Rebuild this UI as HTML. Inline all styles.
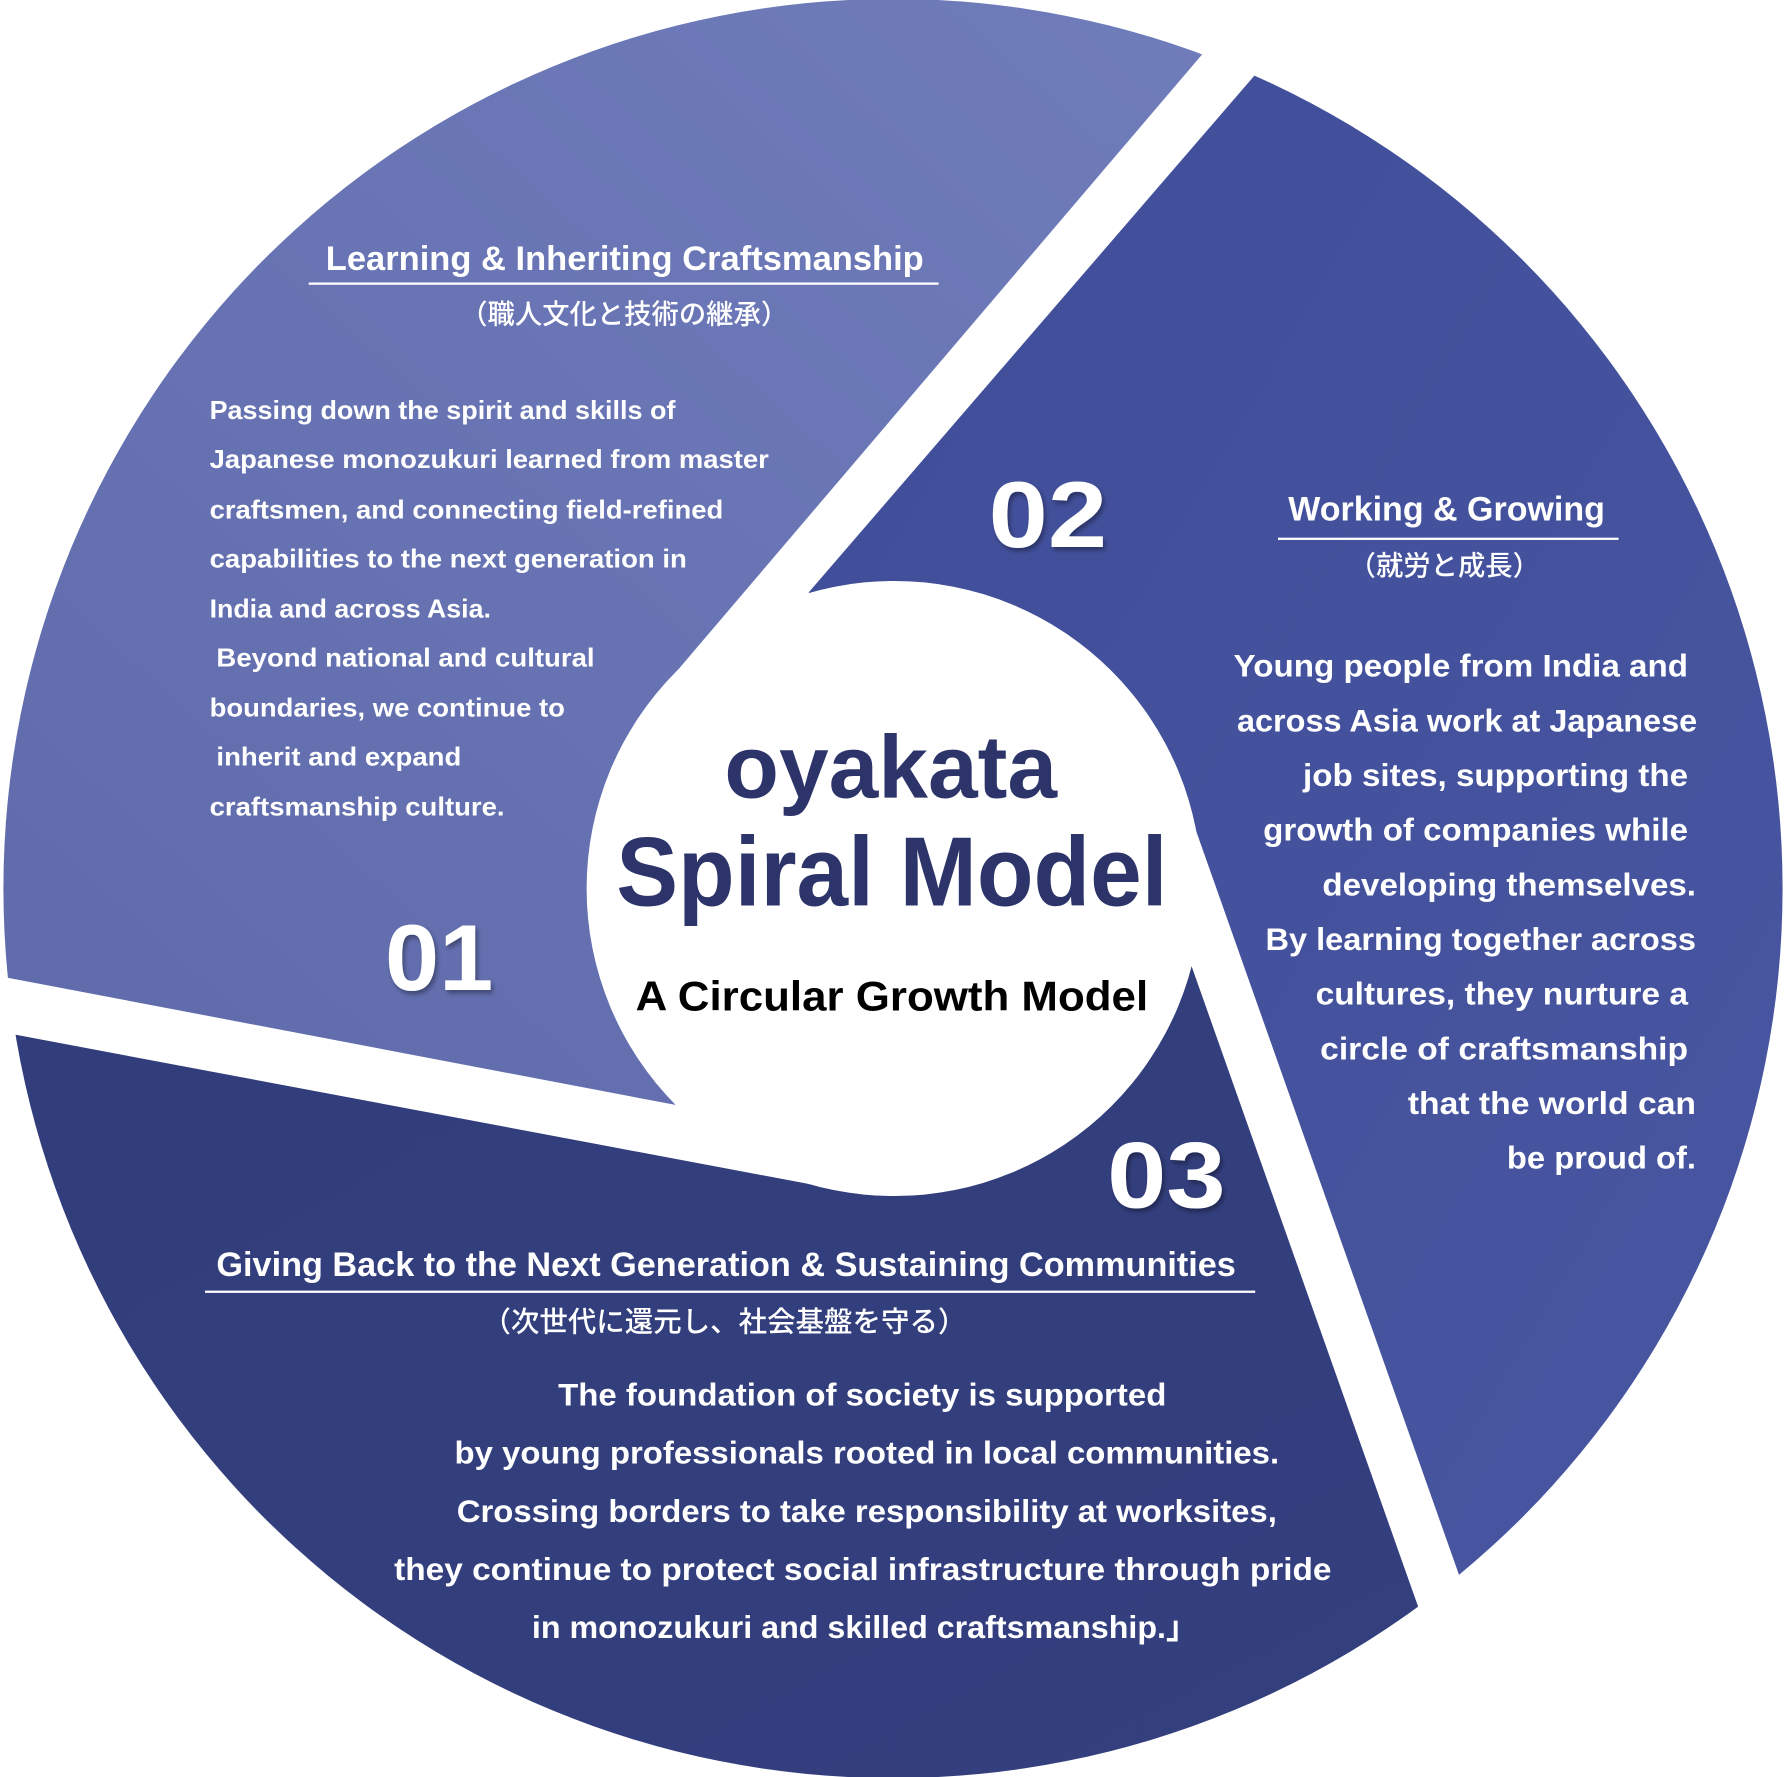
<!DOCTYPE html>
<html><head><meta charset="utf-8">
<style>
html,body{margin:0;padding:0;background:#fff;}
svg{display:block;}
text{font-family:"Liberation Sans","Noto Sans CJK JP",sans-serif;font-weight:bold;}
.w{fill:#fff;}
.jp{font-family:"Liberation Sans","Noto Sans CJK JP",sans-serif;font-weight:500;}
</style></head>
<body>
<svg width="1786" height="1777" viewBox="0 0 1568 1560" preserveAspectRatio="none" xmlns="http://www.w3.org/2000/svg">
<defs>
<clipPath id="c"><circle cx="784" cy="780" r="781"/></clipPath>
<linearGradient id="g1" x1="1" y1="0" x2="0" y2="1">
<stop offset="0" stop-color="#7380bd"/><stop offset="1" stop-color="#5e69aa"/></linearGradient>
<linearGradient id="g2" x1="0" y1="0" x2="1" y2="1">
<stop offset="0" stop-color="#3f4d99"/><stop offset="1" stop-color="#4a58a2"/></linearGradient>
<linearGradient id="g3" x1="0" y1="0" x2="1" y2="1">
<stop offset="0" stop-color="#323d7c"/><stop offset="1" stop-color="#343f7e"/></linearGradient>
<filter id="sh"><feDropShadow dx="2" dy="3" stdDeviation="2" flood-color="#000" flood-opacity="0.35"/></filter>
</defs>
<g clip-path="url(#c)">
<polygon fill="url(#g1)" points="-100,-200 1200,-122 585,600 560,800 593,970 -100,838"/>
<polygon fill="url(#g2)" points="1250,-106 710,520 800,700 1045,715 1350,1578 1700,1578 1700,-106"/>
<polygon fill="url(#g3)" points="-100,887 740,1045 800,800 1045,845 1305,1580 -100,1580"/>
</g>
<circle cx="785" cy="780" r="270" fill="#fff"/>

<!-- Segment 1 -->
<text class="w" x="286" y="237" font-size="30" textLength="525" lengthAdjust="spacingAndGlyphs">Learning &amp; Inheriting Craftsmanship</text>
<rect x="271" y="248" width="553" height="2" fill="#fff"/>
<text class="w jp" x="548" y="284" font-size="24" text-anchor="middle">（職人文化と技術の継承）</text>
<g font-size="23" class="w">
<text x="184" y="368" textLength="409" lengthAdjust="spacingAndGlyphs">Passing down the spirit and skills of</text>
<text x="184" y="411" textLength="491" lengthAdjust="spacingAndGlyphs">Japanese monozukuri learned from master</text>
<text x="184" y="455" textLength="451" lengthAdjust="spacingAndGlyphs">craftsmen, and connecting field-refined</text>
<text x="184" y="498" textLength="419" lengthAdjust="spacingAndGlyphs">capabilities to the next generation in</text>
<text x="184" y="542" textLength="247" lengthAdjust="spacingAndGlyphs">India and across Asia.</text>
<text x="190" y="585" textLength="332" lengthAdjust="spacingAndGlyphs">Beyond national and cultural</text>
<text x="184" y="629" textLength="312" lengthAdjust="spacingAndGlyphs">boundaries, we continue to</text>
<text x="190" y="672" textLength="215" lengthAdjust="spacingAndGlyphs">inherit and expand</text>
<text x="184" y="716" textLength="259" lengthAdjust="spacingAndGlyphs">craftsmanship culture.</text>
</g>
<text class="w" x="338" y="869" font-size="82" textLength="95" lengthAdjust="spacingAndGlyphs" filter="url(#sh)">01</text>

<!-- Segment 2 -->
<text class="w" x="868" y="480" font-size="82" textLength="104" lengthAdjust="spacingAndGlyphs" filter="url(#sh)">02</text>
<text class="w" x="1131" y="457" font-size="30" textLength="278" lengthAdjust="spacingAndGlyphs">Working &amp; Growing</text>
<rect x="1122" y="472" width="299" height="2" fill="#fff"/>
<text class="w jp" x="1268" y="505" font-size="24" text-anchor="middle">（就労と成長）</text>
<g font-size="28" class="w">
<text x="1083" y="594" textLength="399" lengthAdjust="spacingAndGlyphs">Young people from India and</text>
<text x="1086" y="642" textLength="404" lengthAdjust="spacingAndGlyphs">across Asia work at Japanese</text>
<text x="1144" y="690" textLength="338" lengthAdjust="spacingAndGlyphs">job sites, supporting the</text>
<text x="1109" y="738" textLength="373" lengthAdjust="spacingAndGlyphs">growth of companies while</text>
<text x="1161" y="786" textLength="328" lengthAdjust="spacingAndGlyphs">developing themselves.</text>
<text x="1111" y="834" textLength="378" lengthAdjust="spacingAndGlyphs">By learning together across</text>
<text x="1155" y="882" textLength="327" lengthAdjust="spacingAndGlyphs">cultures, they nurture a</text>
<text x="1159" y="930" textLength="323" lengthAdjust="spacingAndGlyphs">circle of  craftsmanship</text>
<text x="1236" y="978" textLength="253" lengthAdjust="spacingAndGlyphs">that the world can</text>
<text x="1323" y="1026" textLength="166" lengthAdjust="spacingAndGlyphs">be proud of.</text>
</g>

<!-- Center -->
<text x="636" y="700" font-size="78" fill="#2c3469" textLength="292" lengthAdjust="spacingAndGlyphs">oyakata</text>
<text x="541" y="795" font-size="86" fill="#2c3469" textLength="484" lengthAdjust="spacingAndGlyphs">Spiral Model</text>
<text x="558" y="887" font-size="37" fill="#000" textLength="450" lengthAdjust="spacingAndGlyphs">A Circular Growth Model</text>

<!-- Segment 3 -->
<text class="w" x="972" y="1060" font-size="82" textLength="104" lengthAdjust="spacingAndGlyphs" filter="url(#sh)">03</text>
<text class="w" x="190" y="1120" font-size="30" textLength="895" lengthAdjust="spacingAndGlyphs">Giving Back to the Next Generation &amp; Sustaining Communities</text>
<rect x="180" y="1133" width="922" height="2" fill="#fff"/>
<text class="w jp" x="636" y="1169" font-size="25" text-anchor="middle">（次世代に還元し、社会基盤を守る）</text>
<g font-size="28" class="w">
<text x="490" y="1234" textLength="534" lengthAdjust="spacingAndGlyphs">The foundation of society is supported</text>
<text x="399" y="1285" textLength="724" lengthAdjust="spacingAndGlyphs">by young professionals rooted in local communities.</text>
<text x="401" y="1336" textLength="720" lengthAdjust="spacingAndGlyphs">Crossing borders to take responsibility at worksites,</text>
<text x="346" y="1387" textLength="823" lengthAdjust="spacingAndGlyphs">they continue to protect social infrastructure through pride</text>
<text x="467" y="1438" textLength="585" lengthAdjust="spacingAndGlyphs">in monozukuri and skilled craftsmanship.」</text>
</g>
</svg>
</body></html>
